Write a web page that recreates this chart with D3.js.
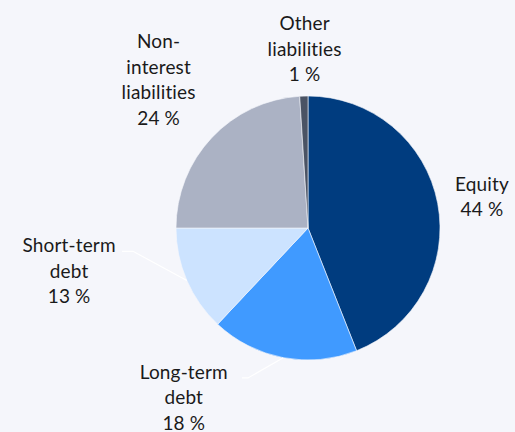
<!DOCTYPE html>
<html>
<head>
<meta charset="utf-8">
<script src="https://cdn.jsdelivr.net/npm/d3@7"></script>
<style>
  html, body { margin: 0; padding: 0; background: #f5f6fb; }
  svg { display: block; }
  text { font-family: Lato, "Open Sans", sans-serif; font-size: 19px; fill: #1a1a1a;
         font-variant-ligatures: none; font-feature-settings: "liga" 0; letter-spacing: 0.15px; }
</style>
</head>
<body>
<svg id="chart" width="515" height="432"></svg>
<script>
// Balance sheet composition (share of total, %)
const categories = ["Equity", "Long-term debt", "Short-term debt", "Non-interest liabilities", "Other liabilities"];
const shares = [44, 18, 13, 24, 1];
const labelLines = [
  ["Equity"],
  ["Long-term", "debt"],
  ["Short-term", "debt"],
  ["Non-", "interest", "liabilities"],
  ["Other", "liabilities"]
];
const colors = ["#003c7f", "#409aff", "#cce3ff", "#abb2c4", "#4a5364"];

const W = 515, H = 432;
const cx = 308, cy = 228, R = 132;
const lineH = 25.5;

// Label placement: offset of each label block (centre x, first baseline) from
// the point on its slice's mid-angle ray at radius labelR; leader lines only where shown.
const labelR = 172;
const labelPlacement = [
  { dx: 5,   dy: -5,  leader: false },
  { dx: -92, dy: -18, leader: true, leaderEndX: 242, bendX: 248 },
  { dx: -81, dy: -44, leader: true, leaderEndX: 122, bendX: 133 },
  { dx: -24, dy: -62, leader: false },
  { dx: 2,   dy: -26, leader: false }
];

const svg = d3.select("#chart");
const g = svg.append("g").attr("transform", `translate(${cx},${cy})`);

const pie = d3.pie().sort(null).value(d => d.value).startAngle(0).endAngle(2 * Math.PI);
const data = categories.map((c, i) => ({ name: c, value: shares[i], i }));
const arcs = pie(data);

const arc = d3.arc().innerRadius(0).outerRadius(R);

g.selectAll("path.slice")
  .data(arcs)
  .join("path")
  .attr("class", "slice")
  .attr("d", arc)
  .attr("fill", d => colors[d.data.i])
  .attr("stroke", "#f5f6fb")
  .attr("stroke-width", 0.6);

function polar(angle, r) {
  return [Math.sin(angle) * r, -Math.cos(angle) * r];
}

const labels = svg.append("g");
arcs.forEach(a => {
  const i = a.data.i;
  const mid = (a.startAngle + a.endAngle) / 2;
  const p = polar(mid, labelR);
  const pl = labelPlacement[i];
  const x = cx + p[0] + pl.dx;
  const y0 = cy + p[1] + pl.dy;
  const lines = labelLines[i].concat([d3.format("d")(a.data.value) + " %"]);
  const t = labels.append("text").attr("text-anchor", "middle");
  lines.forEach((ln, k) => {
    t.append("tspan").attr("x", x).attr("y", y0 + k * lineH).text(ln);
  });
  if (pl.leader) {
    const e = polar(mid, R);
    const ly = y0 - 1;
    labels.append("polyline")
      .attr("points", [[cx + e[0], cy + e[1]], [pl.bendX, ly], [pl.leaderEndX, ly]].map(q => q.join(",")).join(" "))
      .attr("fill", "none")
      .attr("stroke", "#ffffff")
      .attr("stroke-width", 1.2);
  }
});
</script>
</body>
</html>
